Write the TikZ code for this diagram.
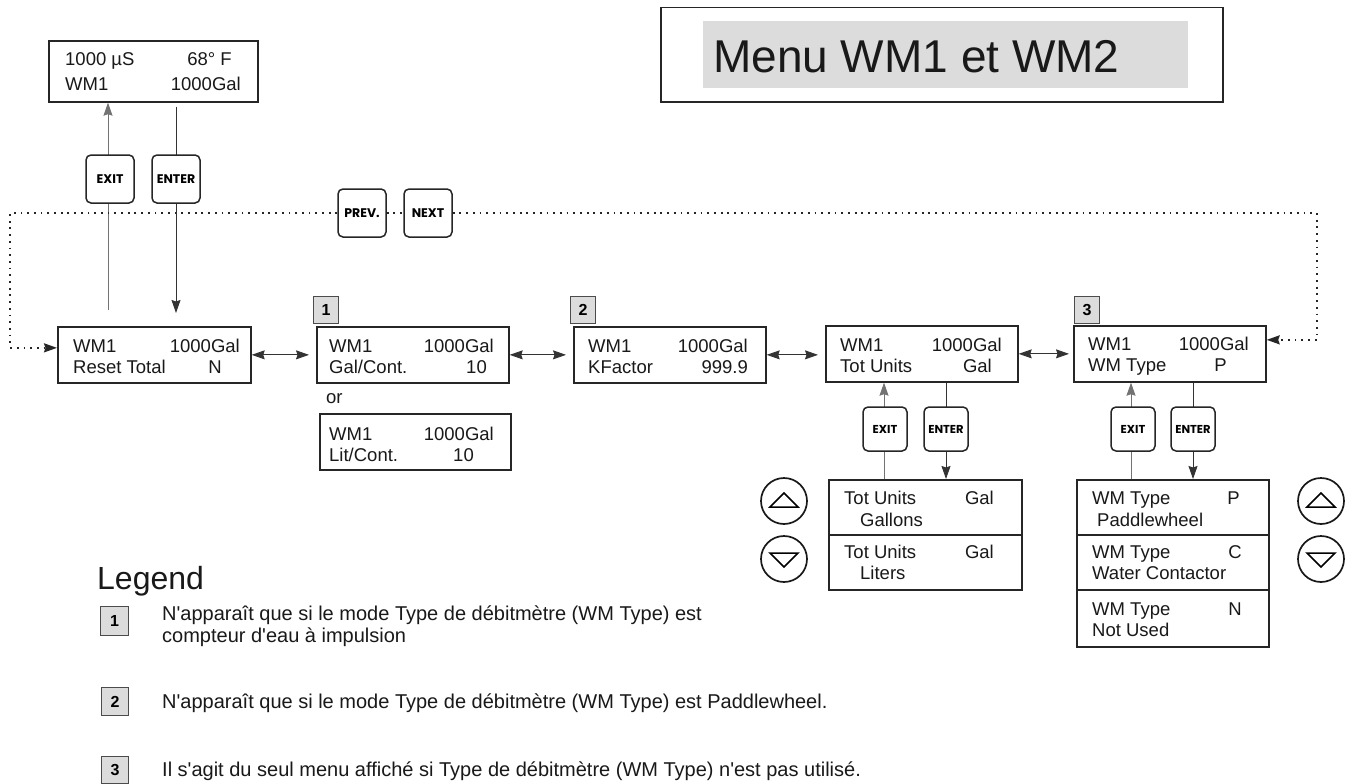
\documentclass[tikz,border=0pt]{standalone}
\usepackage{fontspec}
\usetikzlibrary{arrows.meta}
\newfontfamily\arialfont{Liberation Sans}
\newfontfamily\keyfont{Poppins}
\definecolor{tagfill}{HTML}{DCDCDC}

\tikzset{
  >={Stealth[length=13pt,width=9pt,inset=1.5pt]},
  dbox/.style={draw=black!85, line width=1.7pt, rectangle, inner sep=0pt, fill=white, anchor=north west},
  lcd/.style={font=\arialfont\fontsize{18.5}{22}\selectfont, inner sep=0pt, text=black!90},
  keybtn/.style={draw=black!85, line width=1.5pt, rounded corners=5pt, fill=white,
    minimum width=48pt, minimum height=48pt, inner sep=0pt,
    font=\keyfont\bfseries\fontsize{12.5}{14}\selectfont},
  smallkey/.style={keybtn, minimum width=44pt, minimum height=44pt,
    font=\keyfont\bfseries\fontsize{11.5}{13}\selectfont},
  tag/.style={draw=black!70, line width=1pt, fill=tagfill, anchor=north west,
    minimum width=25pt, minimum height=27pt, inner sep=0pt,
    font=\arialfont\bfseries\fontsize{16}{16}\selectfont},
  conn/.style={line width=0.9pt, draw=black!80},
  exitconn/.style={line width=0.9pt, draw=black!55},
  dots/.style={line width=1.8pt, dash pattern=on 1.8pt off 4.9pt, draw=black!85},
  roundkey/.style={circle, draw=black!90, line width=1.7pt, minimum size=46pt, inner sep=0pt},
  legtxt/.style={font=\arialfont\fontsize{20}{24}\selectfont, inner sep=0pt, text=black!90, anchor=base west},
}

% left- and right-aligned display text
\newcommand\lt[4]{\node[lcd,anchor=base west] (#1) at (#2,#3) {#4};}
\newcommand\rt[4]{\node[lcd,anchor=base east] (#1) at (#2,#3) {#4};}

\begin{document}
\begin{tikzpicture}[x=1pt,y=-1pt]
\fill[white] (0,0) rectangle (1354,784);
\useasboundingbox (0,0) rectangle (1354,784);

% title
\node[draw=black!85, line width=1.5pt, anchor=north west, minimum width=562pt, minimum height=94pt, inner sep=0pt] (titlebox) at (660,7) {};
\node[fill=tagfill, anchor=north west, minimum width=485pt, minimum height=67pt, inner sep=0pt] (titlebg) at (703,21) {};
\node[anchor=base west, inner sep=0pt, font=\arialfont\fontsize{46}{50}\selectfont, text=black!90] (title) at (713,72) {Menu WM1 et WM2};

% main display
\node[dbox, minimum width=209pt, minimum height=61pt] (top) at (48,40) {};
\lt{ta}{65}{66}{1000 µS}
\rt{tb}{232}{66}{68° F}
\lt{tc}{65}{90}{WM1}
\rt{td}{241}{90}{1000Gal}

% menu row
\node[dbox, minimum width=193pt, minimum height=56pt] (reset) at (57,326) {};
\lt{ra}{73}{352}{WM1}
\rt{rb}{240}{352}{1000Gal}
\lt{rc}{73}{373}{Reset Total}
\rt{rd}{222}{373}{N}

\node[dbox, minimum width=192pt, minimum height=56pt] (b1) at (316,326) {};
\lt{b1a}{329}{352}{WM1}
\rt{b1b}{494}{352}{1000Gal}
\lt{b1c}{329}{373}{Gal/Cont.}
\rt{b1d}{487}{373}{10}
\node[tag] (tag1) at (313,296) {1};

\node[lcd, anchor=base west] (ortxt) at (326,403) {or};
\node[dbox, minimum width=191pt, minimum height=56pt] (b1alt) at (319,413) {};
\lt{b1e}{329}{440}{WM1}
\rt{b1f}{494}{440}{1000Gal}
\lt{b1g}{329}{461}{Lit/Cont.}
\rt{b1h}{474}{461}{10}

\node[dbox, minimum width=192pt, minimum height=56pt] (b2) at (573,326) {};
\lt{b2a}{588}{352}{WM1}
\rt{b2b}{748}{352}{1000Gal}
\lt{b2c}{588}{373}{KFactor}
\rt{b2d}{748}{373}{999.9}
\node[tag] (tag2) at (570,296) {2};

\node[dbox, minimum width=192pt, minimum height=56pt] (b3) at (825,325) {};
\lt{b3a}{840}{351}{WM1}
\rt{b3b}{1002}{351}{1000Gal}
\lt{b3c}{840}{372}{Tot Units}
\rt{b3d}{992}{372}{Gal}

\node[dbox, minimum width=192pt, minimum height=56pt] (b4) at (1073,325) {};
\lt{b4a}{1088}{350}{WM1}
\rt{b4b}{1249}{350}{1000Gal}
\lt{b4c}{1088}{371}{WM Type}
\rt{b4d}{1227}{371}{P}
\node[tag] (tag3) at (1074,296) {3};

% choice lists
\node[dbox, minimum width=193pt, minimum height=55pt] (u1) at (828,479) {};
\lt{u1a}{844}{504}{Tot Units}
\rt{u1b}{994}{504}{Gal}
\lt{u1c}{860}{526}{Gallons}
\node[dbox, minimum width=193pt, minimum height=55pt] (u2) at (828,534) {};
\lt{u2a}{844}{558}{Tot Units}
\rt{u2b}{994}{558}{Gal}
\lt{u2c}{860}{579}{Liters}

\node[dbox, minimum width=192pt, minimum height=55pt] (w1) at (1076,479) {};
\lt{w1a}{1092}{504}{WM Type}
\rt{w1b}{1240}{504}{P}
\lt{w1c}{1097}{526}{Paddlewheel}
\node[dbox, minimum width=192pt, minimum height=55pt] (w2) at (1076,534) {};
\lt{w2a}{1092}{558}{WM Type}
\rt{w2b}{1242}{558}{C}
\lt{w2c}{1092}{579}{Water Contactor}
\node[dbox, minimum width=192pt, minimum height=57pt] (w3) at (1076,589) {};
\lt{w3a}{1092}{615}{WM Type}
\rt{w3b}{1242}{615}{N}
\lt{w3c}{1092}{636}{Not Used}

% key positions
\coordinate (ex1) at (108,179);
\coordinate (en1) at (176,179);
\coordinate (ex2) at (884,429);
\coordinate (en2) at (946,429);
\coordinate (ex3) at (1131,429);
\coordinate (en3) at (1193,429);

% EXIT / ENTER connectors
\draw[exitconn,->] ([yshift=16pt]reset.north -| ex1) -- (top.south -| ex1);
\draw[conn,->] ([yshift=-4pt]top.south -| en1) -- ([yshift=13pt]reset.north -| en1);
\draw[exitconn,->] (u1.north -| ex2) -- (b3.south -| ex2);
\draw[conn,->] (b3.south -| en2) -- (u1.north -| en2);
\draw[exitconn,->] (w1.north -| ex3) -- (b4.south -| ex3);
\draw[conn,->] (b4.south -| en3) -- (w1.north -| en3);

% horizontal links between menu screens
\draw[conn,<->,shorten >=7pt] (reset.east) -- (b1.west |- reset.east);
\draw[conn,<->,shorten >=7pt] (b1.east) -- (b2.west |- b1.east);
\draw[conn,<->,shorten >=7pt] (b2.east) -- (b3.west |- b2.east);
\draw[conn,<->,shorten >=4pt] (b3.east) -- (b4.west |- b3.east);

% keys
\node[keybtn] (exitA) at (110,179) {EXIT};
\node[keybtn] (enterA) at (en1) {ENTER};
\node[keybtn] (prev) at (362,213) {PREV.};
\node[keybtn] (next) at (428,213) {NEXT};
\node[smallkey] (exitB) at (885,429) {EXIT};
\node[smallkey] (enterB) at (946,429) {ENTER};
\node[smallkey] (exitC) at (1133,429) {EXIT};
\node[smallkey] (enterC) at (1193,429) {ENTER};

% PREV / NEXT loop
\coordinate (loopL) at (10,213);
\coordinate (loopR) at (1317,213);
\draw[dots,->] (prev.west) -- (loopL) |- ([yshift=7pt]reset.west);
\draw[dots] (prev.east) -- (next.west);
\draw[dots,->] (next.east) -- (loopR) |- ([yshift=14pt]b4.east);

% arrow keys
\node[roundkey] (upL) at (784,501) {};
\node[roundkey] (dnL) at (784,559) {};
\node[roundkey] (upR) at (1321,501) {};
\node[roundkey] (dnR) at (1321,559) {};
\foreach \k in {upL,upR}{
  \draw[line width=1.5pt, line join=miter] ([shift={(0,-8)}]\k.center) -- ([shift={(14,6)}]\k.center) -- ([shift={(-14,6)}]\k.center) -- cycle;
}
\foreach \k in {dnL,dnR}{
  \draw[line width=1.5pt, line join=miter] ([shift={(0,8)}]\k.center) -- ([shift={(14,-6)}]\k.center) -- ([shift={(-14,-6)}]\k.center) -- cycle;
}

% legend
\node[anchor=base west, inner sep=0pt, font=\arialfont\fontsize{32}{36}\selectfont, text=black!90] (legend) at (97,589) {Legend};
\node[tag, minimum width=28pt, minimum height=29pt] (leg1) at (100,606) {1};
\node[legtxt] (leg1a) at (162,620) {N'apparaît que si le mode Type de débitmètre (WM Type) est};
\node[legtxt] (leg1b) at (162,642) {compteur d'eau à impulsion};
\node[tag, minimum width=27pt, minimum height=28pt] (leg2) at (101,687) {2};
\node[legtxt] (leg2a) at (162,708) {N'apparaît que si le mode Type de débitmètre (WM Type) est Paddlewheel.};
\node[tag, minimum width=27pt, minimum height=27pt] (leg3) at (101,756) {3};
\node[legtxt] (leg3a) at (162,776) {Il s'agit du seul menu affiché si Type de débitmètre (WM Type) n'est pas utilisé.};
\end{tikzpicture}
\end{document}
